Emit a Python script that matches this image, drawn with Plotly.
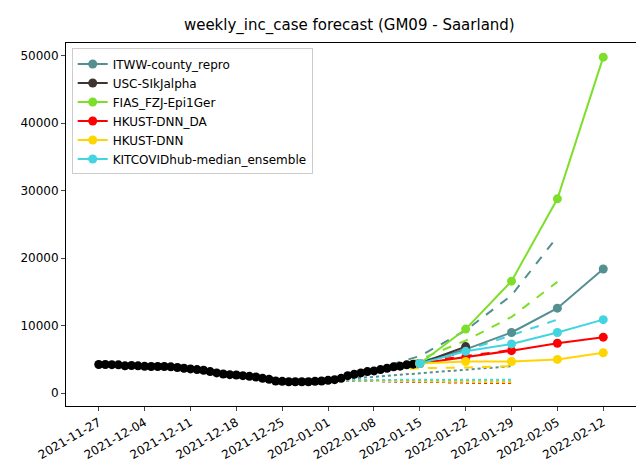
import pandas as pd
import plotly.graph_objects as go

truth_dates = pd.date_range("2021-11-27", "2022-01-15", freq="D")
truth_values = [4250, 4250, 4230, 4200, 4050, 4100, 4050,
                3980, 3950, 3950, 3950, 3900, 3800, 3700,
                3600, 3500, 3400, 3200, 3000, 2850, 2750,
                2700, 2600, 2500, 2400, 2200, 2050, 1800,
                1750, 1700, 1700, 1700, 1700, 1750, 1800,
                1900, 2000, 2200, 2600, 2800, 3000, 3200,
                3300, 3500, 3700, 3900, 4000, 4200, 4300,
                4400]

fc_dates = ["2022-01-15", "2022-01-22", "2022-01-29", "2022-02-05", "2022-02-12"]
models = ["ITWW-county_repro", "USC-SIkJalpha", "FIAS_FZJ-Epi1Ger",
          "HKUST-DNN_DA", "HKUST-DNN", "KITCOVIDhub-median_ensemble"]
colors = ["#548f91", "#3e3430", "#7ddf2a", "#ff0000", "#ffd500", "#42d4e0"]
current = [
    [4400, 6500, 9000, 12600, 18400],
    [4400, 6900, None, None, None],
    [4400, 9500, 16600, 28800, 49800],
    [4400, 5300, 6300, 7400, 8300],
    [4400, 4700, 4700, 5000, 6000],
    [4400, 6200, 7300, 9000, 10900],
]

prev_dates = ["2022-01-08", "2022-01-15", "2022-01-22", "2022-01-29", "2022-02-05"]
previous = [
    [3500, 5500, 9300, 14500, 23200],
    [3400, 4600, 6100, None, None],
    [3400, 5000, 7800, 11300, 16500],
    [3400, 4600, 5500, 6400, None],
    [3400, 3700, 3800, 4000, None],
    [3400, 4700, 6300, 8600, 10900],
]

old_dates = ["2022-01-01", "2022-01-08", "2022-01-15", "2022-01-22", "2022-01-29"]
older = [
    [1900, 2400, 2900, 3400, 4000],
    [1900, 1800, 1700, 1600, 1500],
    [1900, 1900, 1800, 1800, 1700],
    [1900, 1800, 1700, 1600, 1500],
    [1900, 1800, 1700, 1700, 1600],
    [1900, 2000, 2000, 2000, 2000],
]

fig = go.Figure()
for m, c, vals in zip(models, colors, older):
    fig.add_trace(go.Scatter(x=old_dates, y=vals, mode="lines", showlegend=False,
                             line=dict(color=c, dash="dot", width=2)))
for m, c, vals in zip(models, colors, previous):
    fig.add_trace(go.Scatter(x=prev_dates, y=vals, mode="lines", showlegend=False,
                             line=dict(color=c, dash="dash", width=2)))
fig.add_trace(go.Scatter(x=truth_dates, y=truth_values, mode="lines+markers",
                         showlegend=False, line=dict(color="black", width=1.5),
                         marker=dict(color="black", size=9)))
for m, c, vals in zip(models, colors, current):
    fig.add_trace(go.Scatter(x=fc_dates, y=vals, mode="lines+markers", name=m,
                             line=dict(color=c, width=2), marker=dict(color=c, size=9)))

ticks = pd.date_range("2021-11-27", "2022-02-12", freq="7D")
fig.update_layout(
    width=644, height=466,
    paper_bgcolor="white", plot_bgcolor="white",
    margin=dict(l=56, r=16, t=35, b=66),
    font=dict(family="DejaVu Sans", size=12, color="black"),
    title=dict(text="weekly_inc_case forecast (GM09 - Saarland)", x=0.53, y=0.975,
               xanchor="center", font=dict(size=15)),
    legend=dict(x=0.01, y=0.985, xanchor="left", yanchor="top",
                bordercolor="#cccccc", borderwidth=1, bgcolor="rgba(255,255,255,0.8)",
                font=dict(size=12)),
    showlegend=True,
)
fig.update_xaxes(range=["2021-11-22", "2022-02-17"], tickvals=ticks,
                 ticktext=[d.strftime("%Y-%m-%d") for d in ticks], tickangle=-30,
                 showgrid=False, showline=True, linecolor="black", linewidth=1, mirror=True,
                 ticks="outside", ticklen=4, zeroline=False)
fig.update_yaxes(range=[-1900, 51900], tickvals=[0, 10000, 20000, 30000, 40000, 50000],
                 tickformat="d",
                 showgrid=False, showline=True, linecolor="black", linewidth=1, mirror=True,
                 ticks="outside", ticklen=4, zeroline=False)
fig.write_html("out.html")
